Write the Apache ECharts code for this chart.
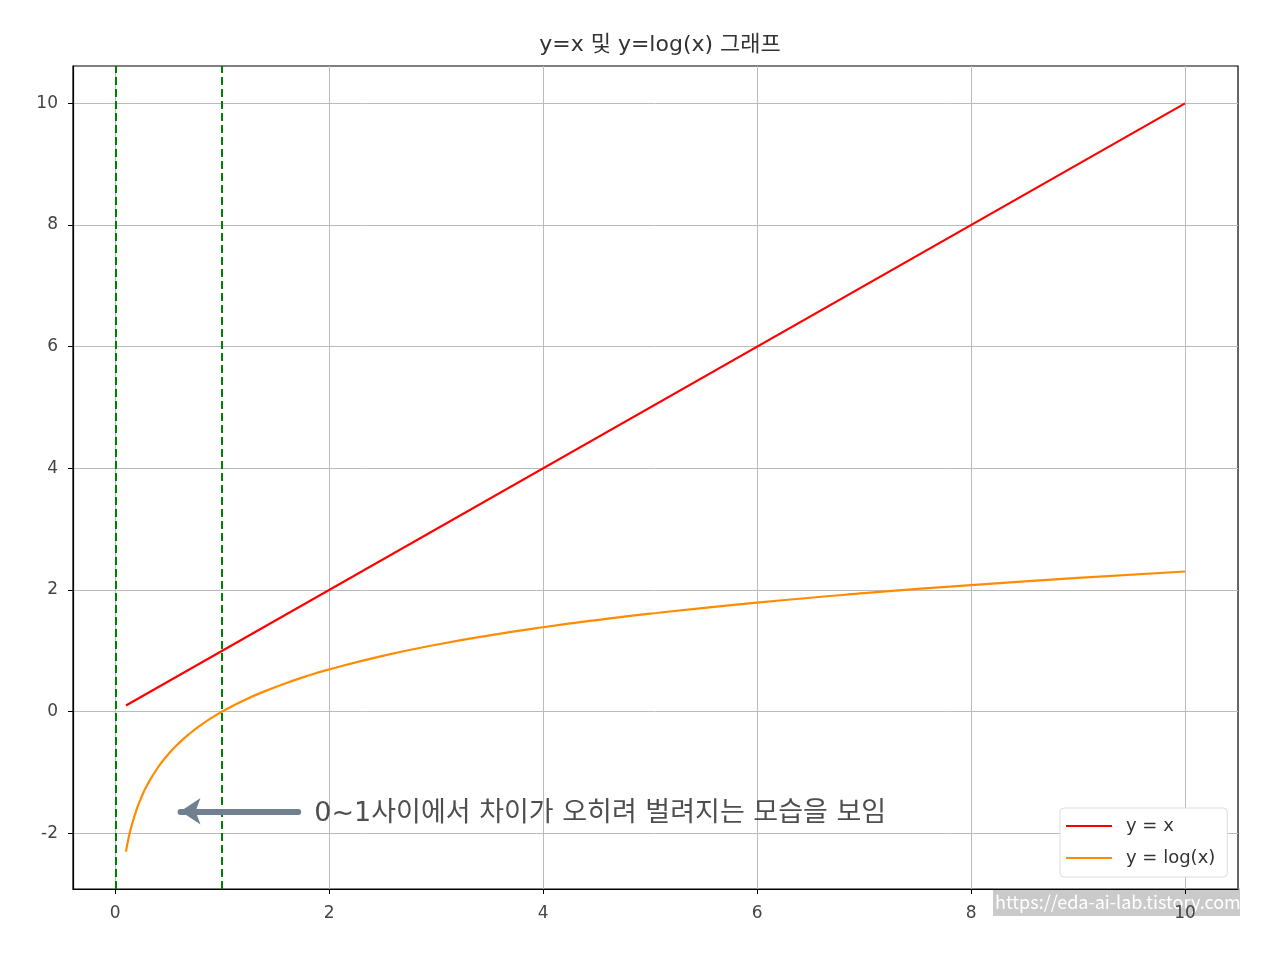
<!DOCTYPE html>
<html>
<head>
<meta charset="utf-8">
<script src="https://cdn.jsdelivr.net/npm/echarts@6/dist/echarts.min.js"></script>
<style>html,body{margin:0;padding:0;background:#fff}#c{width:1280px;height:957px}</style>
</head>
<body>
<div id="c"></div>
<script>
// ---- data ----
const xTicks = [0, 2, 4, 6, 8, 10];
const yTicks = [-2, 0, 2, 4, 6, 8, 10];
const linearX = [0.1, 10];
const linearY = [0.1, 10];
const logX = [0.1, 0.12, 0.15, 0.2, 0.25, 0.3, 0.4, 0.5, 0.6, 0.7, 0.8, 0.9, 1.0, 1.2, 1.4, 1.6, 1.8, 2, 2.5, 3, 3.5, 4, 4.5, 5, 6, 7, 8, 9, 10];
const logY = [-2.303, -2.120, -1.897, -1.609, -1.386, -1.204, -0.916, -0.693, -0.511, -0.357, -0.223, -0.105, 0, 0.182, 0.336, 0.470, 0.588, 0.693, 0.916, 1.099, 1.253, 1.386, 1.504, 1.609, 1.792, 1.946, 2.079, 2.197, 2.303];
const vLines = [0, 1];
const arrowFrom = [1.71, -1.64];
const arrowTo = [0.61, -1.64];
const noteAt = [1.86, -1.64];
const noteText = '0~1사이에서 차이가 오히려 벌려지는 모습을 보임';
const titleText = 'y=x 및 y=log(x) 그래프';
const seriesNames = ['y = x', 'y = log(x)'];
const watermark = 'https://eda-ai-lab.tistory.com';

const zip = (a, b) => a.map((v, i) => [v, b[i]]);
const font = '"DejaVu Sans", "Noto Sans CJK KR", sans-serif';
const kfont = '"Noto Sans CJK KR", "Noto Sans", sans-serif';

const chart = echarts.init(document.getElementById('c'));
chart.setOption({
  animation: false,
  backgroundColor: '#fff',
  title: {
    text: titleText, left: 655, textAlign: 'center', top: 29,
    textStyle: { fontFamily: font, fontSize: 22, fontWeight: 'normal', color: '#333' }
  },
  grid: { left: 73, right: 42, top: 66, bottom: 68, show: true, borderColor: '#000', borderWidth: 1.2, containLabel: false },
  xAxis: {
    type: 'value', min: -0.395, max: 10.495,
    axisLine: { show: true, onZero: false, lineStyle: { color: '#000', width: 1.2 } },
    axisTick: { show: true, length: 5, customValues: xTicks, lineStyle: { color: '#000' } },
    axisLabel: { customValues: xTicks, color: '#444', fontSize: 17, fontFamily: font, margin: 16 },
    splitLine: { show: true, lineStyle: { color: '#bbb', width: 1 } }
  },
  yAxis: {
    type: 'value', min: -2.918, max: 10.615,
    axisLine: { show: true, onZero: false, lineStyle: { color: '#000', width: 1.2 } },
    axisTick: { show: true, length: 5, customValues: yTicks, lineStyle: { color: '#000' } },
    axisLabel: { customValues: yTicks, color: '#444', fontSize: 17, fontFamily: font, margin: 15 },
    splitLine: { show: true, lineStyle: { color: '#bbb', width: 1 } }
  },
  legend: {
    orient: 'vertical', left: 1060, top: 808,
    data: seriesNames,
    icon: 'rect', itemWidth: 46, itemHeight: 2, itemGap: 12,
    backgroundColor: '#fff', borderColor: '#ddd', borderWidth: 1, borderRadius: 4,
    padding: [8, 12, 9, 6],
    textStyle: { fontFamily: font, fontSize: 18, color: '#333', lineHeight: 20, padding: [0, 0, 0, 9] }
  },
  series: [
    {
      name: seriesNames[0], type: 'line', data: zip(linearX, linearY), showSymbol: false,
      lineStyle: { color: '#ff0000', width: 2.2 }, itemStyle: { color: '#ff0000' }, z: 3
    },
    {
      name: seriesNames[1], type: 'line', data: zip(logX, logY), showSymbol: false, smooth: true,
      lineStyle: { color: '#ff8c00', width: 2.2 }, itemStyle: { color: '#ff8c00' }, z: 3,
      markLine: {
        silent: true, symbol: ['none', 'none'], animation: false,
        label: { show: false },
        lineStyle: { color: '#008000', width: 2, type: [8, 4] },
        data: vLines.map(v => ({ xAxis: v }))
      }
    },
    {
      name: 'note', type: 'line', data: [], z: 5,
      markLine: {
        silent: true, symbol: ['none', 'arrow'], symbolSize: [20, 20], animation: false,
        label: { show: false },
        lineStyle: { color: '#708090', width: 6, type: 'solid', cap: 'round', opacity: 1 },
        data: [[{ coord: arrowFrom }, { coord: arrowTo }]]
      }
    },
    {
      name: 'noteText', type: 'scatter', data: [noteAt], symbolSize: 0, z: 6,
      label: { show: true, position: 'right', distance: 0, offset: [0, 3], formatter: noteText, fontFamily: font, fontSize: 27, color: '#222' }
    }
  ],
  graphic: [
    {
      type: 'group', left: 993, top: 888, z: 100,
      children: [
        { type: 'rect', shape: { x: 0, y: 0, width: 247, height: 28 }, style: { fill: 'rgba(150,150,150,0.5)' } },
        { type: 'text', x: 2, y: 14, style: { text: watermark, fill: '#fff', fontSize: 18, fontFamily: kfont, verticalAlign: 'middle' } }
      ]
    }
  ]
});
</script>
</body>
</html>
